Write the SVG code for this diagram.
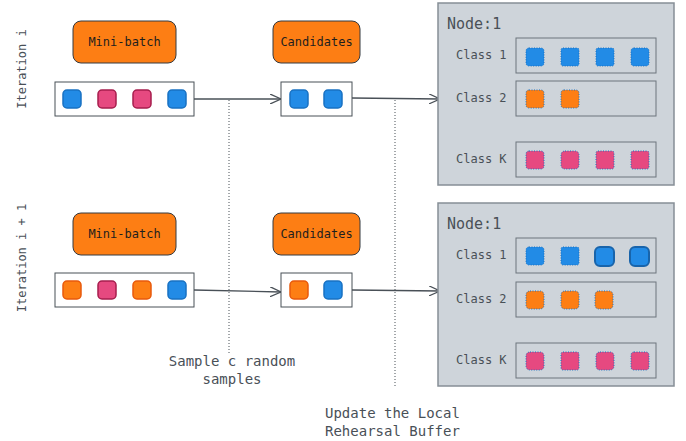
<svg xmlns="http://www.w3.org/2000/svg" width="686" height="441" viewBox="0 0 686 441">
<defs>
<style>
.lbl{font-family:"DejaVu Sans Mono","Liberation Mono",monospace;font-size:12px;fill:#1e1e1e}
.gl{font-family:"DejaVu Sans Mono","Liberation Mono",monospace;fill:#495057}
.ob{fill:#fd7e14;stroke:#343a40;stroke-width:1}
.row{fill:#ffffff;stroke:#495057;stroke-width:1}
.panel{fill:#ced4da;stroke:#868e96;stroke-width:1.5}
.cls{fill:none;stroke:#6c757d;stroke-width:1}
.b{fill:#228be6;stroke:#1971c2;stroke-width:1.5}
.p{fill:#e64980;stroke:#a61e4d;stroke-width:1.5}
.o{fill:#fd7e14;stroke:#e8590c;stroke-width:1.5}
.bd{fill:#228be6;stroke:#1864ab;stroke-width:2}
.sb{fill:#228be6;stroke:#1971c2;stroke-width:1;stroke-dasharray:1 1.5}
.sp{fill:#e64980;stroke:#1971c2;stroke-width:1;stroke-dasharray:1 1.5}
.so{fill:#fd7e14;stroke:#1971c2;stroke-width:1;stroke-dasharray:1 1.5}
.ln{stroke:#495057;stroke-width:1.3;fill:none}
.dot{stroke:#495057;stroke-width:1;stroke-dasharray:1 2;fill:none}
</style>
<marker id="ah" viewBox="0 0 12 10" refX="11" refY="5" markerWidth="12" markerHeight="10" markerUnits="userSpaceOnUse" orient="auto">
<path d="M0,0 L11,5 L0,10" fill="none" stroke="#495057" stroke-width="1.3"/>
</marker>
</defs>

<g id="connectors">
<line class="ln" x1="194" y1="99" x2="281" y2="99" marker-end="url(#ah)"/>
<line class="ln" x1="352" y1="98" x2="440" y2="99" marker-end="url(#ah)"/>
<line class="ln" x1="194" y1="290" x2="281" y2="292" marker-end="url(#ah)"/>
<line class="ln" x1="352" y1="290" x2="440" y2="291" marker-end="url(#ah)"/>
<line class="dot" x1="229" y1="100" x2="229" y2="355"/>
<line class="dot" x1="395" y1="100" x2="395" y2="386"/>
</g>

<g id="label-iter-i"><text class="gl" font-size="12" transform="translate(26,69) rotate(-90)" text-anchor="middle">Iteration i</text></g>
<g id="label-iter-i1"><text class="gl" font-size="12" transform="translate(26,258) rotate(-90)" text-anchor="middle">Iteration i + 1</text></g>

<g id="minibatch-1"><rect class="ob" x="73" y="21" width="103" height="42" rx="8"/><text class="lbl" x="124.5" y="46" text-anchor="middle">Mini-batch</text></g>
<g id="candidates-1"><rect class="ob" x="273" y="21" width="87" height="42" rx="8"/><text class="lbl" x="316.5" y="46" text-anchor="middle">Candidates</text></g>
<g id="batch-row-1">
<rect class="row" x="55" y="82" width="139" height="34"/>
<rect class="b" x="63" y="90" width="18" height="18" rx="4"/>
<rect class="p" x="98" y="90" width="18" height="18" rx="4"/>
<rect class="p" x="133" y="90" width="18" height="18" rx="4"/>
<rect class="b" x="168" y="90" width="18" height="18" rx="4"/>
</g>
<g id="cand-row-1">
<rect class="row" x="281" y="82" width="71" height="34"/>
<rect class="b" x="290" y="90" width="18" height="18" rx="4"/>
<rect class="b" x="324" y="90" width="18" height="18" rx="4"/>
</g>

<g id="minibatch-2"><rect class="ob" x="73" y="213" width="103" height="42" rx="8"/><text class="lbl" x="124.5" y="238" text-anchor="middle">Mini-batch</text></g>
<g id="candidates-2"><rect class="ob" x="273" y="213" width="87" height="42" rx="8"/><text class="lbl" x="316.5" y="238" text-anchor="middle">Candidates</text></g>
<g id="batch-row-2">
<rect class="row" x="55" y="273" width="139" height="34"/>
<rect class="o" x="63" y="281" width="18" height="18" rx="4"/>
<rect class="p" x="98" y="281" width="18" height="18" rx="4"/>
<rect class="o" x="133" y="281" width="18" height="18" rx="4"/>
<rect class="b" x="168" y="281" width="18" height="18" rx="4"/>
</g>
<g id="cand-row-2">
<rect class="row" x="281" y="273" width="71" height="34"/>
<rect class="o" x="290" y="281" width="18" height="18" rx="4"/>
<rect class="b" x="324" y="281" width="18" height="18" rx="4"/>
</g>

<g id="node-1">
<rect class="panel" x="438" y="3" width="236" height="182"/>
<text class="gl" font-size="15" x="447" y="29">Node:1</text>
<text class="gl" font-size="12" x="456" y="59">Class 1</text>
<rect class="cls" x="516" y="38" width="140" height="35"/>
<rect class="sb" x="526" y="48" width="18" height="18" rx="3"/>
<rect class="sb" x="561" y="48" width="18" height="18" rx="2"/>
<rect class="sb" x="596" y="48" width="18" height="18" rx="2"/>
<rect class="sb" x="631" y="48" width="18" height="18" rx="3"/>
<text class="gl" font-size="12" x="456" y="102">Class 2</text>
<rect class="cls" x="516" y="81" width="140" height="35"/>
<rect class="so" x="526" y="90" width="18" height="18" rx="3"/>
<rect class="so" x="561" y="90" width="18" height="18" rx="3"/>
<text class="gl" font-size="12" x="456" y="163">Class K</text>
<rect class="cls" x="516" y="142" width="140" height="35"/>
<rect class="sp" x="526" y="151" width="18" height="18" rx="3"/>
<rect class="sp" x="561" y="151" width="18" height="18" rx="4"/>
<rect class="sp" x="596" y="151" width="18" height="18" rx="2"/>
<rect class="sp" x="631" y="151" width="18" height="18" rx="2"/>
</g>

<g id="node-2">
<rect class="panel" x="438" y="203" width="236" height="183"/>
<text class="gl" font-size="15" x="447" y="229">Node:1</text>
<text class="gl" font-size="12" x="456" y="259">Class 1</text>
<rect class="cls" x="516" y="238" width="140" height="35"/>
<rect class="sb" x="526" y="247" width="18" height="18" rx="3"/>
<rect class="sb" x="561" y="247" width="18" height="18" rx="2"/>
<rect class="bd" x="595" y="247" width="19" height="19" rx="5"/>
<rect class="bd" x="630" y="247" width="19" height="19" rx="5"/>
<text class="gl" font-size="12" x="456" y="303">Class 2</text>
<rect class="cls" x="516" y="282" width="140" height="35"/>
<rect class="so" x="526" y="291" width="18" height="18" rx="4"/>
<rect class="so" x="561" y="291" width="18" height="18" rx="4"/>
<rect class="so" x="595" y="291" width="18" height="18" rx="4"/>
<text class="gl" font-size="12" x="456" y="364">Class K</text>
<rect class="cls" x="516" y="343" width="140" height="35"/>
<rect class="sp" x="526" y="352" width="18" height="18" rx="4"/>
<rect class="sp" x="561" y="352" width="18" height="18" rx="2"/>
<rect class="sp" x="596" y="352" width="18" height="18" rx="4"/>
<rect class="sp" x="631" y="352" width="18" height="18" rx="3"/>
</g>

<g id="label-sample">
<text class="gl" font-size="14" x="232" y="366" text-anchor="middle">Sample c random</text>
<text class="gl" font-size="14" x="232" y="384" text-anchor="middle">samples</text>
</g>
<g id="label-update">
<text class="gl" font-size="14" x="325" y="418">Update the Local</text>
<text class="gl" font-size="14" x="325" y="436">Rehearsal Buffer</text>
</g>
</svg>
